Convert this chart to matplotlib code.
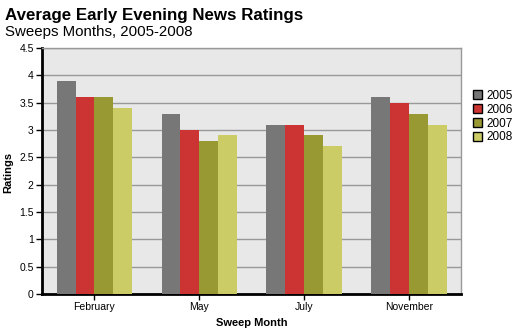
import numpy as np
import matplotlib.pyplot as plt

plt.rcParams['font.family'] = ['Liberation Sans', 'DejaVu Sans']

months = ["February", "May", "July", "November"]
years = ["2005", "2006", "2007", "2008"]
r2005 = [3.9, 3.3, 3.1, 3.6]
r2006 = [3.6, 3.0, 3.1, 3.5]
r2007 = [3.6, 2.8, 2.9, 3.3]
r2008 = [3.4, 2.9, 2.7, 3.1]
colors = ["#777777", "#cc3333", "#999933", "#cccc66"]

fig = plt.figure(figsize=(5.13, 3.31), dpi=100)
ax = fig.add_axes([0.082, 0.112, 0.817, 0.743])
ax.set_facecolor("#e8e8e8")

x = np.arange(len(months))
w = 0.18
series = [r2005, r2006, r2007, r2008]
for i, vals in enumerate(series):
    ax.bar(x + (i - 1.5) * w, vals, w, color=colors[i], label=years[i], zorder=3)

ax.set_xlim(-0.5, 3.5)
ax.set_ylim(0, 4.5)
ax.set_yticks(np.arange(0, 4.51, 0.5))
ax.set_yticklabels(["0", "0.5", "1", "1.5", "2", "2.5", "3", "3.5", "4", "4.5"])
ax.set_xticks(x)
ax.set_xticklabels(months)
ax.yaxis.grid(True, color="#999999", linewidth=1, zorder=1)
ax.tick_params(labelsize=7.5, length=4, width=1, colors="black", pad=2)

for s in ["left", "bottom"]:
    ax.spines[s].set_linewidth(2)
    ax.spines[s].set_color("black")
for s in ["top", "right"]:
    ax.spines[s].set_linewidth(1)
    ax.spines[s].set_color("#999999")

ax.set_xlabel("Sweep Month", fontsize=8, fontweight="bold", labelpad=4)
fig.text(8 / 513, 1 - 172 / 331, "Ratings", fontsize=8, fontweight="bold", rotation=90,
         ha="center", va="center")

fig.text(0.01, 0.94, "Average Early Evening News Ratings", fontsize=12.2, fontweight="bold", va="baseline")
fig.text(0.01, 0.89, "Sweeps Months, 2005-2008", fontsize=10.8, va="baseline")

leg = fig.legend(loc="upper left", bbox_to_anchor=(473 / 513, 1 - 90 / 331), frameon=False, fontsize=8.5,
                 handlelength=0.8, handleheight=0.8, handletextpad=0.3, labelspacing=0.15,
                 borderaxespad=0, borderpad=0)
for h in leg.legend_handles:
    h.set_edgecolor("black")
    h.set_linewidth(1)

fig.savefig("out.png", dpi=100)
